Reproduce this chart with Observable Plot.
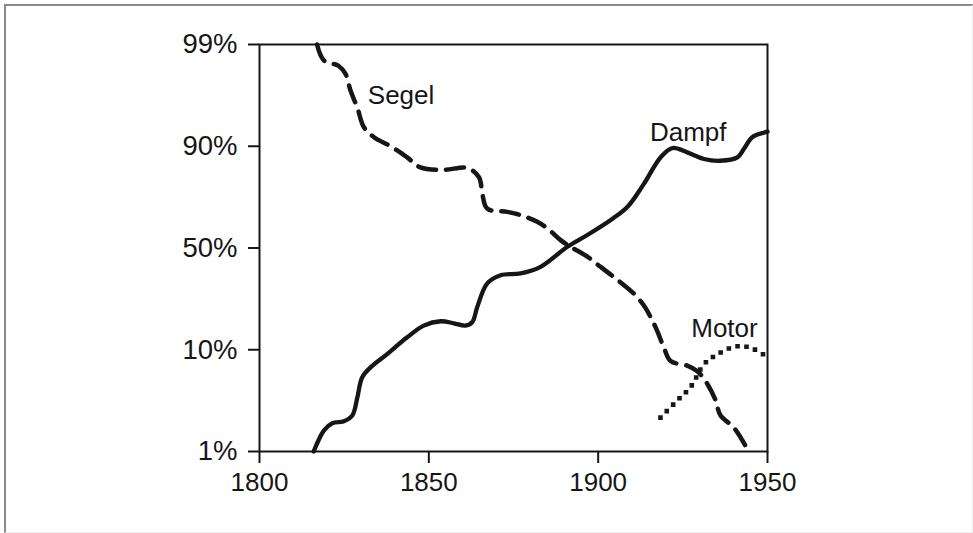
<!DOCTYPE html>
<html>
<head>
<meta charset="utf-8">
<script src="https://cdn.jsdelivr.net/npm/d3@7"></script>
<script src="https://cdn.jsdelivr.net/npm/@observablehq/plot@0.6"></script>
<style>
  html, body { margin: 0; padding: 0; background: #fff; }
  #wrap { position: relative; width: 973px; height: 533px; overflow: hidden; }
  #border { position: absolute; left: 4px; top: 4px; width: 966px; height: 526px;
            border-left: 2px solid #8a8a8a; border-top: 2px solid #8a8a8a;
            border-right: 1px solid #ededed; border-bottom: 1px solid #ededed; pointer-events: none; }
  #chart svg g[aria-label="x-axis tick"], #chart svg g[aria-label="y-axis tick"] { stroke-width: 2px; }
  #chart svg .tick line { stroke-width: 2px; }
  #chart svg g[aria-label="y-axis tick label"] { font-size: 27.5px; }
</style>
</head>
<body>
<div id="wrap"><div id="chart"></div><div id="border"></div></div>
<script>
// Tick labels (share, %) and years
const yTicks = [1, 10, 50, 90, 99];
const xTicks = [1800, 1850, 1900, 1950];

// Dampf (steam), share in %
const dampfYears = [1816.0, 1819.0, 1821.5, 1824.9, 1827.4, 1828.9, 1830.3, 1832.8, 1837.7, 1843.6, 1848.5, 1853.5, 1857.4, 1860.8, 1862.8, 1864.3, 1867.2, 1871.2, 1877.1, 1883.0, 1890.9, 1896.8, 1903.6, 1908.6, 1913.5, 1918.4, 1921.9, 1926.3, 1931.2, 1936.1, 1941.1, 1943.0, 1945.5, 1948.9, 1950];
const dampfValues = [1.0, 2.85, 3.5, 3.67, 4.18, 5.79, 7.55, 8.44, 9.62, 14.9, 19.5, 21.2, 20.4, 19.5, 20.8, 26.8, 36.0, 39.3, 40.0, 42.6, 50.5, 55.1, 60.9, 66.1, 75.2, 85.6, 89.3, 87.6, 85.0, 84.3, 85.6, 88.9, 90.8, 91.2, 91.3];

// Segel (sail), share in %
const segelYears = [1817.0, 1819.0, 1823.4, 1825.4, 1826.9, 1828.9, 1830.8, 1833.8, 1838.7, 1843.6, 1847.5, 1854.4, 1861.3, 1864.8, 1865.8, 1867.2, 1873.1, 1877.1, 1882.0, 1885.0, 1888.9, 1891.8, 1896.8, 1900.7, 1904.6, 1910.5, 1913.5, 1915.5, 1917.4, 1919.4, 1921.4, 1926.3, 1929.3, 1932.2, 1934.7, 1936.1, 1940.1, 1944.0, 1944.4];
const segelValues = [99, 97.6, 97.1, 96.4, 94.9, 93.4, 91.7, 90.8, 90.0, 85.6, 81.7, 80.7, 81.5, 77.8, 71.3, 65.5, 64.2, 62.9, 60.3, 57.7, 53.1, 50.5, 46.6, 42.6, 38.6, 32.1, 27.4, 22.8, 17.5, 10.9, 9.0, 8.6, 8.1, 7.0, 5.5, 4.2, 3.1, 1.24, 1.0];

// Motor, share in %
const motorYears = [1918.4, 1923.3, 1927.3, 1931.2, 1935.2, 1940.6, 1945.0, 1949.7];
const motorValues = [4.0, 5.5, 6.7, 8.7, 9.6, 11.3, 10.8, 9.4];

// Series labels
const labelNames = ["Segel", "Dampf", "Motor"];
const labelYears = [1841.8, 1926.6, 1937.3];
const labelValues = [94.5, 91.2, 18.4];

const toRows = (xs, ys) => xs.map((x, i) => ({year: x, value: ys[i]}));
const dampf = toRows(dampfYears, dampfValues);
const segel = toRows(segelYears, segelValues);
const motor = toRows(motorYears, motorValues);
const labels = labelNames.map((n, i) => ({name: n, year: labelYears[i], value: labelValues[i]}));

const W = 973, H = 533, mTop = 44, mBottom = 82, mLeft = 259, mRight = 206;
const yBottom = H - mBottom, yTop = mTop;
// Equally spaced ticks (piecewise-linear probability axis)
const yRange = yTicks.map((_, i) => yBottom - i * (yBottom - yTop) / (yTicks.length - 1));

const ink = "#161616";
const chart = Plot.plot({
  width: W, height: H,
  marginTop: mTop, marginBottom: mBottom, marginLeft: mLeft, marginRight: mRight,
  style: {fontSize: "26px", fontFamily: "'Liberation Sans', Arial, Helvetica, sans-serif", color: ink, background: "transparent"},
  x: {domain: [1800, 1950], ticks: xTicks, tickFormat: d => String(d), tickSize: 12, tickPadding: 9, label: null},
  y: {type: "linear", domain: yTicks, range: yRange, ticks: yTicks, tickFormat: d => d + "%", tickSize: 11, tickPadding: 11, label: null},
  marks: [
    Plot.frame({stroke: ink, strokeWidth: 2}),
    Plot.line(dampf, {x: "year", y: "value", stroke: ink, strokeWidth: 4.3, curve: "catmull-rom"}),
    Plot.line(segel, {x: "year", y: "value", stroke: ink, strokeWidth: 4.5, strokeDasharray: "18,10", curve: "catmull-rom"}),
    Plot.line(motor, {x: "year", y: "value", stroke: ink, strokeWidth: 4.6, strokeDasharray: "0,9", strokeLinecap: "square", curve: "catmull-rom"}),
    Plot.text(labels, {x: "year", y: "value", text: "name", fill: ink, fontSize: 26})
  ]
});
document.getElementById("chart").appendChild(chart);
</script>
</body>
</html>
